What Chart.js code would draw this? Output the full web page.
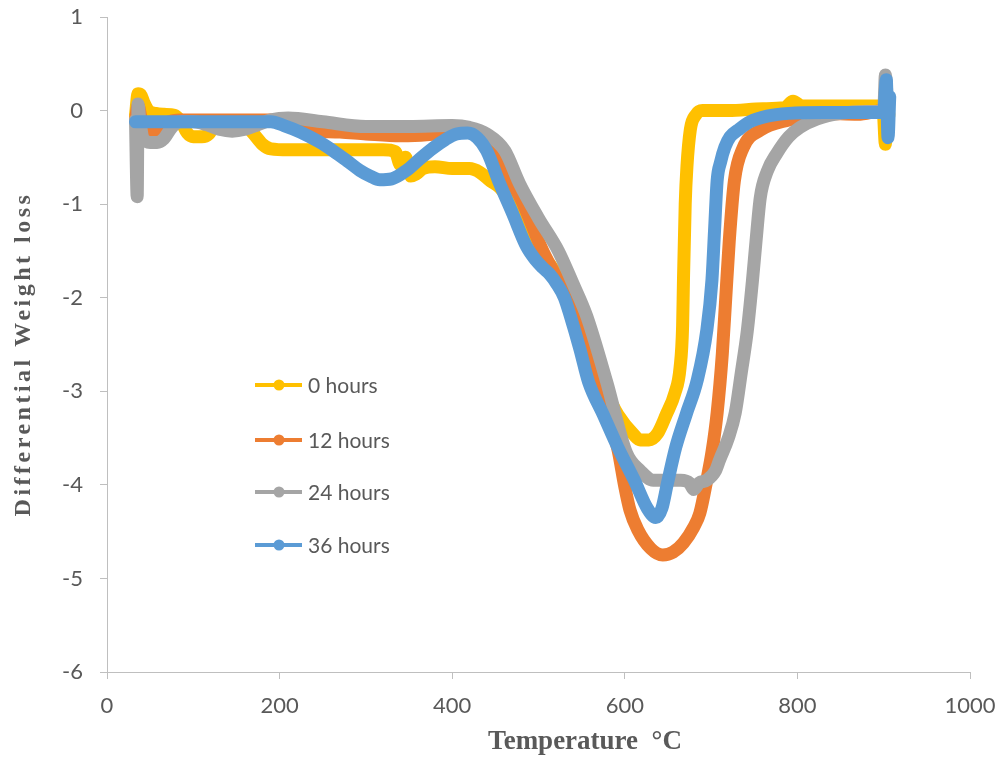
<!DOCTYPE html>
<html>
<head>
<meta charset="utf-8">
<script src="https://cdn.jsdelivr.net/npm/chart.js@4.4.1/dist/chart.umd.min.js"></script>
<style>
  html, body { margin: 0; padding: 0; background: #fff; }
  #wrap { width: 1005px; height: 761px; position: relative; }
</style>
</head>
<body>
<div id="wrap"><canvas id="dtgChart"></canvas></div>
<script>
// temperature (°C) and differential weight loss
const temp0h = [33, 36, 39, 43, 48, 56, 66, 78, 86, 93, 100, 110, 118, 124, 132, 150, 160, 170, 180, 190, 210, 240, 280, 320, 334, 340, 346, 352, 358, 366, 380, 400, 420, 432, 444, 455, 470, 486, 505, 521, 537, 558, 575, 592, 610, 618, 628, 638, 648, 658, 664, 667, 668, 670, 672, 676, 682, 690, 720, 760, 785, 795, 805, 830, 860, 890, 899, 902, 904, 906];
const loss0h = [-0.05, 0.18, 0.17, 0.08, 0.0, -0.03, -0.04, -0.05, -0.12, -0.24, -0.28, -0.28, -0.25, -0.17, -0.13, -0.12, -0.15, -0.25, -0.36, -0.41, -0.42, -0.42, -0.42, -0.42, -0.44, -0.58, -0.5, -0.7, -0.68, -0.62, -0.6, -0.62, -0.62, -0.66, -0.75, -0.82, -1.0, -1.3, -1.55, -1.75, -2.05, -2.6, -2.95, -3.25, -3.46, -3.52, -3.52, -3.45, -3.25, -3.02, -2.75, -2.3, -1.8, -1.0, -0.6, -0.2, -0.05, 0.0, 0.0, 0.02, 0.03, 0.1, 0.05, 0.05, 0.05, 0.05, 0.05, -0.36, 0.1, -0.05];

const temp12h = [33, 36, 40, 48, 56, 64, 72, 85, 110, 150, 190, 205, 220, 240, 270, 300, 340, 370, 400, 420, 435, 450, 465, 480, 505, 525, 545, 568, 580, 592, 600, 606, 615, 630, 644, 656, 668, 680, 687, 695, 701, 707, 713, 717, 721, 727, 737, 757, 790, 830, 870, 900, 904];
const loss12h = [-0.1, 0.05, -0.1, -0.2, -0.22, -0.2, -0.12, -0.1, -0.1, -0.1, -0.1, -0.13, -0.2, -0.22, -0.23, -0.25, -0.27, -0.26, -0.22, -0.2, -0.28, -0.48, -0.7, -0.95, -1.5, -1.85, -2.2, -2.9, -3.25, -3.62, -4.02, -4.27, -4.48, -4.68, -4.75, -4.72, -4.62, -4.45, -4.3, -3.95, -3.65, -3.23, -2.6, -2.0, -1.4, -0.75, -0.4, -0.21, -0.1, -0.03, -0.04, 0.0, -0.05];

const temp24h = [33, 35, 36, 38, 42, 50, 58, 66, 75, 85, 100, 115, 130, 145, 160, 175, 190, 210, 250, 300, 350, 400, 420, 440, 461, 478, 500, 523, 540, 556, 579, 602, 618, 633, 650, 665, 675, 680, 686, 695, 705, 710, 720, 728, 735, 742, 748, 752, 757, 765, 776, 790, 803, 823, 850, 880, 900, 902, 905];
const loss24h = [-0.1, -0.92, 0.07, -0.1, -0.3, -0.34, -0.34, -0.3, -0.18, -0.12, -0.12, -0.15, -0.2, -0.22, -0.2, -0.15, -0.1, -0.08, -0.12, -0.17, -0.17, -0.16, -0.18, -0.25, -0.43, -0.78, -1.15, -1.5, -1.85, -2.2, -2.9, -3.66, -3.85, -3.95, -3.95, -3.95, -3.98, -4.05, -3.98, -3.95, -3.85, -3.73, -3.5, -3.23, -2.8, -2.35, -1.81, -1.4, -0.93, -0.65, -0.46, -0.28, -0.18, -0.09, -0.03, -0.01, 0.0, 0.38, -0.1];

const temp36h = [33, 60, 100, 150, 190, 205, 224, 245, 262, 280, 293, 305, 316, 330, 347, 362, 378, 392, 405, 418, 429, 440, 455, 470, 486, 497, 505, 513, 521, 530, 537, 548, 558, 575, 592, 611, 626, 636, 643, 649, 659, 671, 684, 695, 701, 704, 707, 711, 716, 722, 731, 745, 765, 790, 830, 870, 900, 903, 905, 907];
const loss36h = [-0.12, -0.12, -0.12, -0.12, -0.12, -0.16, -0.23, -0.33, -0.43, -0.55, -0.64, -0.7, -0.74, -0.73, -0.64, -0.52, -0.4, -0.31, -0.25, -0.24, -0.29, -0.43, -0.78, -1.1, -1.45, -1.6, -1.68, -1.75, -1.85, -2.0, -2.2, -2.55, -2.9, -3.25, -3.6, -3.95, -4.25, -4.35, -4.25, -4.0, -3.6, -3.25, -2.88, -2.35, -1.81, -1.28, -0.75, -0.55, -0.39, -0.28, -0.21, -0.12, -0.06, -0.03, -0.02, -0.02, -0.02, 0.33, -0.29, 0.15];

const seriesLabels = ["0 hours", "12 hours", "24 hours", "36 hours"];
const seriesColors = ["#FFC000", "#ED7D31", "#A5A5A5", "#5B9BD5"];

function toPoints(xs, ys) {
    return xs.map((x, i) => ({ x: x, y: ys[i] }));
}

const allSeries = [
    toPoints(temp0h, loss0h),
    toPoints(temp12h, loss12h),
    toPoints(temp24h, loss24h),
    toPoints(temp36h, loss36h)
];

const tickFont = { family: "Lato, 'Open Sans', sans-serif", size: 22 };
const axisGray = "#BFBFBF";

// axis titles drawn by hand so they can sit where the original has them
const axisTitles = {
    id: "axisTitles",
    afterDraw(chart) {
        const ctx = chart.ctx;
        ctx.save();
        ctx.fillStyle = "#595959";
        ctx.textAlign = "center";
        ctx.textBaseline = "middle";
        ctx.font = "bold 27px 'Liberation Serif', 'Times New Roman', serif";
        ctx.fillText("Temperature  \u00B0C", 585, 742);
        ctx.translate(24, 354);
        ctx.rotate(-Math.PI / 2);
        ctx.font = "bold 24px 'Liberation Serif', 'Times New Roman', serif";
        ctx.letterSpacing = "3.5px";
        ctx.fillText("Differential Weight loss", 0, 0);
        ctx.restore();
    }
};

// legend sits inside the plot, one entry per row
const insideLegend = {
    id: "insideLegend",
    afterDraw(chart) {
        const ctx = chart.ctx;
        const rows = [385, 440, 492, 545];
        ctx.save();
        seriesLabels.forEach((label, i) => {
            const y = rows[i];
            ctx.strokeStyle = seriesColors[i];
            ctx.lineWidth = 4;
            ctx.beginPath();
            ctx.moveTo(255, y);
            ctx.lineTo(302, y);
            ctx.stroke();
            ctx.fillStyle = seriesColors[i];
            ctx.beginPath();
            ctx.arc(279, y, 5.5, 0, Math.PI * 2);
            ctx.fill();
            ctx.fillStyle = "#595959";
            ctx.font = "21px Lato, 'Open Sans', sans-serif";
            ctx.textAlign = "left";
            ctx.textBaseline = "middle";
            ctx.fillText(label, 308, y + 1);
        });
        ctx.restore();
    }
};

const ctx = document.getElementById("dtgChart").getContext("2d");
new Chart(ctx, {
    type: "scatter",
    data: {
        datasets: allSeries.map((pts, i) => ({
            label: seriesLabels[i],
            data: pts,
            showLine: true,
            borderColor: seriesColors[i],
            backgroundColor: seriesColors[i],
            borderWidth: 13,
            borderCapStyle: "round",
            borderJoinStyle: "round",
            cubicInterpolationMode: "monotone",
            pointRadius: 0,
            fill: false,
            order: 3 - i
        }))
    },
    options: {
        responsive: true,
        maintainAspectRatio: false,
        animation: false,
        layout: { padding: { left: 0, right: 35, top: 17, bottom: 0 } },
        plugins: {
            legend: { display: false },
            tooltip: { enabled: false }
        },
        scales: {
            x: {
                type: "linear",
                min: 0,
                max: 1000,
                ticks: {
                    stepSize: 200, font: tickFont, color: "#595959", padding: 14,
                    callback: (v) => String(v)
                },
                grid: { drawOnChartArea: false, color: axisGray, tickLength: 7 },
                border: { color: axisGray },
                afterFit(scale) {
                    scale.height = 89;
                    scale.paddingLeft = 0;
                    scale.paddingRight = 0;
                }
            },
            y: {
                min: -6,
                max: 1,
                ticks: { stepSize: 1, font: tickFont, color: "#595959", padding: 17 },
                grid: { drawOnChartArea: false, color: axisGray, tickLength: 7 },
                border: { color: axisGray },
                afterFit(scale) {
                    scale.width = 107;
                    scale.paddingTop = 0;
                    scale.paddingBottom = 0;
                }
            }
        }
    },
    plugins: [axisTitles, insideLegend]
});
</script>
</body>
</html>
